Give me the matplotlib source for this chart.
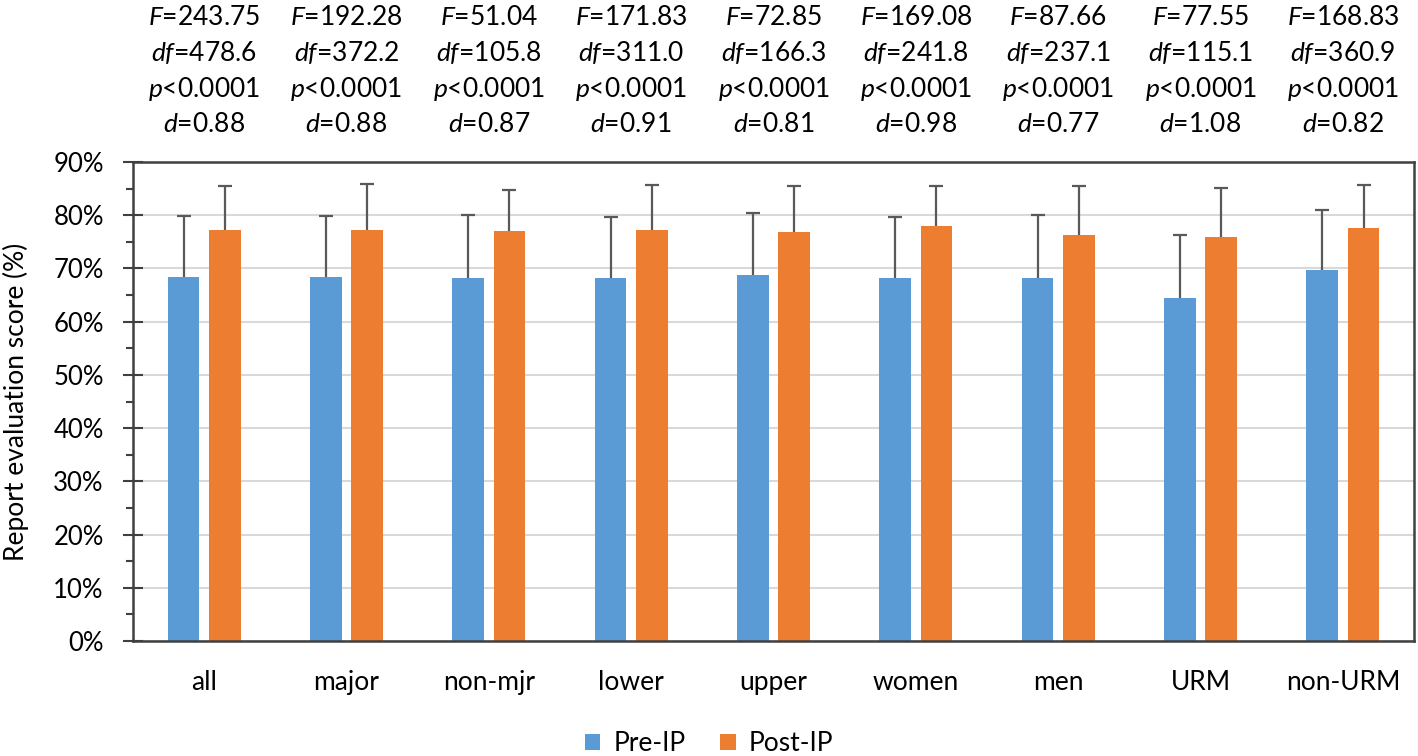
import numpy as np
import matplotlib
matplotlib.use('Agg')
import matplotlib.pyplot as plt
from matplotlib.ticker import MultipleLocator, PercentFormatter

# ---- data ----
groups = ['all', 'major', 'non-mjr', 'lower', 'upper', 'women', 'men', 'URM', 'non-URM']
pre_mean = [68.4, 68.4, 68.3, 68.2, 68.8, 68.3, 68.3, 64.4, 69.7]
pre_sd = [11.5, 11.5, 11.7, 11.4, 11.7, 11.4, 11.8, 11.8, 11.2]
post_mean = [77.2, 77.2, 77.0, 77.2, 76.9, 77.9, 76.3, 75.9, 77.6]
post_sd = [8.2, 8.6, 7.7, 8.4, 8.5, 7.6, 9.1, 9.3, 8.0]

F_vals = ['243.75', '192.28', '51.04', '171.83', '72.85', '169.08', '87.66', '77.55', '168.83']
df_vals = ['478.6', '372.2', '105.8', '311.0', '166.3', '241.8', '237.1', '115.1', '360.9']
df_italic = [True, False, False, True, False, False, False, False, False]
p_vals = ['0.0001'] * 9
d_vals = ['0.88', '0.88', '0.87', '0.91', '0.81', '0.98', '0.77', '1.08', '0.82']

BLUE = '#5B9BD5'
ORANGE = '#ED7D31'
AXIS = '#404040'
FS = 19

plt.rcParams['font.family'] = ['Lato', 'DejaVu Sans']
plt.rcParams['mathtext.fontset'] = 'custom'
plt.rcParams['mathtext.rm'] = 'Lato'
plt.rcParams['mathtext.it'] = 'Lato:italic'

fig = plt.figure(figsize=(14.18, 7.56), dpi=100)
ax = fig.add_axes([0.0938, 0.1521, 0.9034, 0.6336])

x = np.arange(len(groups))
w = 0.223
off = 0.145

err_kw = dict(ecolor='#595959', elinewidth=1.6, capsize=4.7, capthick=1.6)
bars = []
for pos, mean, sd, col, lab in [(x - off, pre_mean, pre_sd, BLUE, 'Pre-IP'),
                                (x + off, post_mean, post_sd, ORANGE, 'Post-IP')]:
    b = ax.bar(pos, mean, w, color=col, label=lab, zorder=2,
               yerr=[np.zeros(len(x)), sd], error_kw=err_kw)
    # only the upper whisker cap is shown
    caps = b.errorbar.lines[1]
    if len(caps) > 1:
        caps[0].set_visible(False)
    bars.append(b)

ax.set_xlim(-0.5, len(groups) - 0.5)
ax.set_ylim(0, 90)
ax.yaxis.set_major_locator(MultipleLocator(10))
ax.yaxis.set_minor_locator(MultipleLocator(5))
ax.yaxis.set_major_formatter(PercentFormatter(decimals=0))
ax.grid(axis='y', color='#d9d9d9', linewidth=1.5, zorder=0)
ax.set_axisbelow(True)

ax.set_xticks(x)
ax.set_xticklabels(groups, fontsize=FS)
ax.tick_params(axis='x', length=0, pad=21)
ax.tick_params(axis='y', which='major', direction='inout', length=14,
               width=1.5, color=AXIS, labelsize=18.5, pad=14)
ax.tick_params(axis='y', which='minor', direction='out', length=5,
               width=1.5, color=AXIS)
for s in ax.spines.values():
    s.set_color(AXIS)
    s.set_linewidth(1.8)

ax.set_ylabel('Report evaluation score (%)', fontsize=FS)
ax.yaxis.set_label_coords(-0.0815, 0.5)

# statistics above each group
for i in range(len(groups)):
    if df_italic[i]:
        df_line = r'$df$=$\mathit{%s}$' % df_vals[i]
    else:
        df_line = r'$df$=%s' % df_vals[i]
    lines = [r'$F$=' + F_vals[i], df_line, r'$p$<' + p_vals[i], r'$d$=' + d_vals[i]]
    ax.text(x[i], 1.063, '\n'.join(lines), transform=ax.get_xaxis_transform(),
            ha='center', va='baseline', fontsize=FS, linespacing=1.42)

fig.legend(handles=bars, loc='center', bbox_to_anchor=(0.5, 0.016), ncol=2,
           frameon=False, fontsize=FS, handlelength=0.6, handleheight=0.6,
           columnspacing=1.3, handletextpad=0.5)

fig.savefig('out.png', dpi=100)
